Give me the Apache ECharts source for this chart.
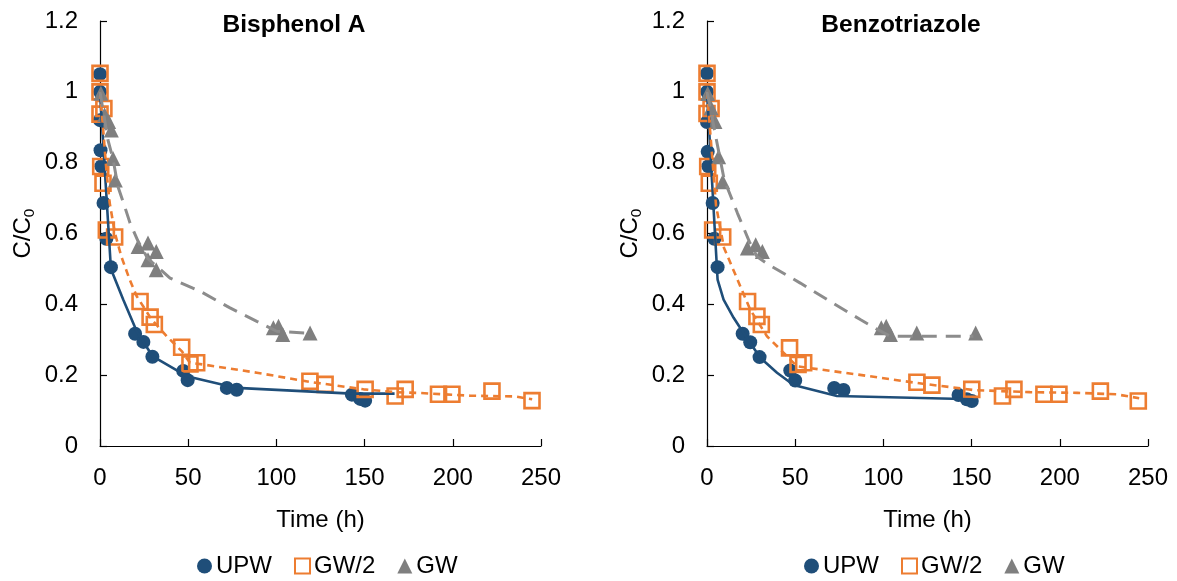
<!DOCTYPE html>
<html>
<head>
<meta charset="utf-8">
<script src="https://cdn.jsdelivr.net/npm/echarts@6/dist/echarts.min.js"></script>
<style>
  html, body { margin: 0; padding: 0; background: #fff; }
  #chart { width: 1177px; height: 581px; }
</style>
</head>
<body>
<div id="chart"></div>
<script>
// Normalised concentration C/C0 versus time (h), measured points and model curves.
const panelTitles = ['Bisphenol A', 'Benzotriazole'];
const seriesNames = ['UPW', 'GW/2', 'GW'];
const xTicks = [0, 50, 100, 150, 200, 250];
const yTicks = [0, 0.2, 0.4, 0.6, 0.8, 1, 1.2];

// Bisphenol A — measured
const bpaUpw = [[0,1.05],[0,1.0],[0,0.92],[0.3,0.835],[0.8,0.79],[2,0.686],[3.6,0.585],[6.2,0.505],[19.9,0.317],[24.6,0.294],[29.7,0.252],[47.2,0.212],[49.7,0.186],[71.9,0.164],[77.5,0.159],[142.8,0.145],[147.5,0.133],[150.3,0.128]];
const bpaGw2 = [[0,1.052],[0,1.0],[0,0.937],[2.2,0.953],[0.4,0.789],[1.7,0.742],[3.6,0.61],[8.3,0.59],[22.7,0.408],[28.4,0.364],[30.8,0.343],[46.3,0.279],[51,0.232],[54.8,0.235],[119,0.183],[127.6,0.174],[150.3,0.16],[167.3,0.141],[173,0.16],[191.9,0.146],[199.5,0.146],[222.2,0.155],[244.9,0.128]];
const bpaGw = [[0.5,0.996],[2.6,0.935],[4.9,0.916],[6.4,0.892],[7.4,0.812],[8.7,0.751],[21.6,0.563],[27.2,0.573],[31.9,0.549],[27.2,0.526],[31.9,0.498],[98.3,0.334],[101.2,0.338],[103.6,0.315],[119.1,0.319]];
// Bisphenol A — model
const bpaUpwFit = [[0,1.0],[6.2,0.5],[13.2,0.413],[20.8,0.324],[29.7,0.254],[49.2,0.197],[77.5,0.164],[142.8,0.148],[167,0.148]];
const bpaGw2Fit = [[0,1.0],[1.7,0.9],[3.6,0.78],[5.5,0.686],[8.5,0.6],[12.1,0.535],[16.8,0.47],[20.8,0.423],[29.3,0.357],[37.8,0.31],[46.3,0.268],[51,0.235],[58.6,0.23],[88.9,0.207],[119,0.181],[149.4,0.16],[168,0.152],[180,0.15],[210,0.142],[235,0.14],[245,0.132]];
const bpaGwFit = [[0,1.0],[4.5,0.864],[7.4,0.81],[10.2,0.732],[14,0.676],[17,0.63],[21.6,0.578],[27,0.53],[39.7,0.474],[56.7,0.437],[73.7,0.39],[88.9,0.352],[100.2,0.324],[117,0.319]];

// Benzotriazole — measured
const btzUpw = [[0,1.052],[0,1.0],[0,0.915],[0.4,0.831],[0.8,0.79],[3.2,0.686],[4.2,0.585],[6,0.505],[20.2,0.317],[24.5,0.293],[29.8,0.251],[47.2,0.213],[50,0.185],[72.1,0.164],[77.4,0.158],[142.6,0.144],[147.3,0.132],[150.1,0.127]];
const btzGw2 = [[0,1.052],[0,1.0],[0,0.939],[2.3,0.953],[0.4,0.789],[1.3,0.742],[3.2,0.61],[8.9,0.59],[23,0.408],[28.3,0.366],[30.8,0.343],[46.8,0.277],[51.6,0.23],[54.8,0.235],[119,0.18],[127.5,0.172],[150.1,0.16],[167.5,0.141],[174,0.16],[191,0.146],[199.5,0.146],[223,0.155],[244.5,0.127]];
const btzGw = [[0.4,0.995],[2.3,0.955],[4.5,0.916],[6.6,0.817],[8.9,0.746],[22.9,0.559],[27.6,0.568],[31.4,0.549],[98.8,0.334],[101.6,0.338],[104,0.315],[118.9,0.319],[152.3,0.319]];
// Benzotriazole — model
const btzUpwFit = [[0,1.0],[6,0.47],[9.4,0.413],[15.1,0.362],[20.7,0.319],[30.2,0.249],[39.7,0.207],[49.1,0.172],[73.7,0.141],[151,0.132]];
const btzGw2Fit = [[0,1.0],[3.2,0.8],[5.1,0.68],[9.6,0.56],[16.5,0.479],[24.5,0.385],[34,0.31],[45.3,0.254],[51,0.225],[85,0.202],[119,0.178],[151,0.158],[183,0.152],[210,0.15],[232,0.146],[245,0.135]];
const btzGwFit = [[0,1.0],[9.8,0.751],[17.3,0.657],[24,0.577],[28.3,0.535],[34.9,0.512],[52.9,0.46],[69.9,0.408],[86.9,0.357],[96.3,0.33],[103.8,0.31],[151,0.31]];

const FONT = 'Liberation Sans, Arial, sans-serif';
const BLUE = '#1F4E79';
const ORANGE = '#ED7D31';
const GREY = '#7F7F7F';
const GREY_LINE = '#8C8C8C';

const panels = [
  { left: 100, measured: [bpaUpw, bpaGw2, bpaGw], fits: [bpaUpwFit, bpaGw2Fit, bpaGwFit] },
  { left: 707, measured: [btzUpw, btzGw2, btzGw], fits: [btzUpwFit, btzGw2Fit, btzGwFit] }
];
const GRID_W = 441, GRID_TOP = 21, GRID_H = 425;

const grid = [], xAxis = [], yAxis = [], series = [], title = [], legend = [];

panels.forEach((p, i) => {
  grid.push({ left: p.left, top: GRID_TOP, width: GRID_W, height: GRID_H });
  title.push({
    text: panelTitles[i], left: p.left + 189, top: 8, textAlign: 'center',
    textStyle: { fontFamily: FONT, fontSize: 24.5, fontWeight: 'bold', color: '#000' }
  });
  xAxis.push({
    type: 'value', gridIndex: i, min: xTicks[0], max: xTicks[xTicks.length - 1],
    interval: xTicks[1] - xTicks[0],
    name: 'Time (h)', nameLocation: 'middle', nameGap: 62,
    nameTextStyle: { fontFamily: FONT, fontSize: 24, color: '#000' },
    axisLine: { show: true, lineStyle: { color: '#000', width: 1.2 } },
    axisTick: { show: true, inside: true, length: 7, lineStyle: { color: '#000', width: 1.2 } },
    axisLabel: { fontFamily: FONT, fontSize: 24, color: '#000', margin: 20 },
    splitLine: { show: false }
  });
  yAxis.push({
    type: 'value', gridIndex: i, min: yTicks[0], max: yTicks[yTicks.length - 1],
    interval: 0.2,
    name: '{c|C/C}{s|0}', nameLocation: 'middle', nameGap: 62,
    nameTextStyle: {
      fontFamily: FONT, color: '#000',
      rich: {
        c: { fontFamily: FONT, fontSize: 24, color: '#000', lineHeight: 30, verticalAlign: 'middle' },
        s: { fontFamily: FONT, fontSize: 15.5, color: '#000', lineHeight: 30, verticalAlign: 'bottom' }
      }
    },
    axisLine: { show: true, lineStyle: { color: '#000', width: 1.2 } },
    axisTick: { show: true, inside: true, length: 7, lineStyle: { color: '#000', width: 1.2 } },
    axisLabel: {
      fontFamily: FONT, fontSize: 24, color: '#000', margin: 22,
      formatter: v => String(+v.toFixed(1))
    },
    splitLine: { show: false }
  });

  // measured points
  series.push({
    name: seriesNames[0], type: 'scatter', xAxisIndex: i, yAxisIndex: i,
    data: p.measured[0], symbol: 'circle', symbolSize: 14,
    itemStyle: { color: BLUE, opacity: 1 }, z: 2
  });
  series.push({
    name: seriesNames[1], type: 'scatter', xAxisIndex: i, yAxisIndex: i,
    data: p.measured[1], symbol: 'rect', symbolSize: 15,
    itemStyle: { color: 'rgba(255,255,255,0)', borderColor: ORANGE, borderWidth: 2.6, opacity: 1 }, z: 3
  });
  series.push({
    name: seriesNames[2], type: 'scatter', xAxisIndex: i, yAxisIndex: i,
    data: p.measured[2], symbol: 'triangle', symbolSize: 15,
    itemStyle: { color: GREY, opacity: 1 }, z: 4
  });

  // model curves
  series.push({
    name: 'UPW model', type: 'line', xAxisIndex: i, yAxisIndex: i,
    data: p.fits[0], showSymbol: false, symbol: 'none', z: 5,
    lineStyle: { color: BLUE, width: 2.6, type: 'solid' }
  });
  series.push({
    name: 'GW/2 model', type: 'line', xAxisIndex: i, yAxisIndex: i,
    data: p.fits[1], showSymbol: false, symbol: 'none', z: 5,
    lineStyle: { color: ORANGE, width: 2.6, type: [7, 5] }
  });
  series.push({
    name: 'GW model', type: 'line', xAxisIndex: i, yAxisIndex: i,
    data: p.fits[2], showSymbol: false, symbol: 'none', z: 5,
    lineStyle: { color: GREY_LINE, width: 3, type: [15, 9] }
  });

  legend.push({
    left: p.left + 92, top: 549, orient: 'horizontal',
    itemWidth: 15, itemHeight: 15, itemGap: 22,
    textStyle: { fontFamily: FONT, fontSize: 24, color: '#000', padding: [0, 0, 0, -1] },
    data: [
      { name: 'UPW', icon: 'circle' },
      { name: 'GW/2', icon: 'rect' },
      { name: 'GW', icon: 'triangle' }
    ],
    selectedMode: false
  });
});

const chart = echarts.init(document.getElementById('chart'), null, { renderer: 'canvas' });
chart.setOption({
  animation: false,
  backgroundColor: '#fff',
  title, grid, xAxis, yAxis, legend, series
});
</script>
</body>
</html>
